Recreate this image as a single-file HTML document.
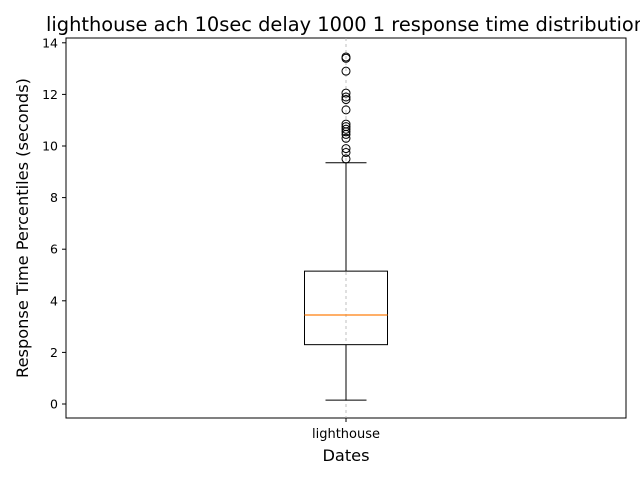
<!DOCTYPE html>
<html><head><meta charset="utf-8"><style>body{margin:0;background:#fff}svg{display:block;font-family:"DejaVu Sans","Liberation Sans",sans-serif}</style></head><body>
<svg id="c" width="640" height="480"></svg>
<script>
const categories=["lighthouse"];
const q1Values=[2.3];
const medianValues=[3.45];
const q3Values=[5.15];
const whiskerLow=[0.15];
const whiskerHigh=[9.35];
const outliers=[13.45,13.4,12.9,12.05,11.9,11.8,11.4,10.85,10.75,10.65,10.55,10.45,10.3,9.9,9.75,9.5];
const yTicks=[0,2,4,6,8,10,12,14];
const NS="http://www.w3.org/2000/svg";
const svg=document.getElementById('c');
const L=66,R=626,T=38,B=418;
function y(v){return 404-v*25.8;}
function x(i){return L+(R-L)*(i+0.5)/categories.length;}
function mk(t,a,txt){const e=document.createElementNS(NS,t);for(const k in a)e.setAttribute(k,a[k]);if(txt!=null)e.textContent=txt;svg.appendChild(e);return e;}
let e;
e=mk('rect',{x:L,y:T,width:R-L,height:B-T,fill:'none',stroke:'#000','stroke-width':1});


yTicks.forEach(t=>{
 e=mk('line',{x1:L-4,x2:L,y1:y(t),y2:y(t),stroke:'#000'});
 
 
 e=mk('text',{x:L-8,y:y(t)+4.5,'text-anchor':'end','font-size':12.5},t);
 
 
});
categories.forEach((c,i)=>{
 const cx=x(i);
 e=mk('line',{x1:cx,x2:cx,y1:T,y2:B,stroke:'#b0b0b0','stroke-dasharray':'3,3','stroke-width':0.8});
 
 
 e=mk('line',{x1:cx,x2:cx,y1:B,y2:B+4,stroke:'#000'});
 
 
 e=mk('text',{x:cx,y:B+20,'text-anchor':'middle','font-size':13},c);
 
 
 e=mk('line',{x1:cx,x2:cx,y1:y(whiskerLow[i]),y2:y(q1Values[i]),stroke:'#000'});
 
 
 e=mk('line',{x1:cx,x2:cx,y1:y(q3Values[i]),y2:y(whiskerHigh[i]),stroke:'#000'});
 
 
 e=mk('line',{x1:cx-20.5,x2:cx+20.5,y1:y(whiskerLow[i]),y2:y(whiskerLow[i]),stroke:'#000'});
 
 
 e=mk('line',{x1:cx-20.5,x2:cx+20.5,y1:y(whiskerHigh[i]),y2:y(whiskerHigh[i]),stroke:'#000'});
 
 
 e=mk('rect',{x:cx-41.5,y:y(q3Values[i]),width:83,height:y(q1Values[i])-y(q3Values[i]),fill:'none',stroke:'#000'});
 
 
 e=mk('line',{x1:cx-41.5,x2:cx+41.5,y1:y(medianValues[i]),y2:y(medianValues[i]),stroke:'#ff7f0e','stroke-width':1.2});
 
 
 outliers.forEach(v=>{
  e=mk('circle',{cx:cx,cy:y(v),r:4,fill:'none',stroke:'#000'});
  
  
 });
});
e=mk('text',{x:346,y:31,'text-anchor':'middle','font-size':19.4},'lighthouse ach 10sec delay 1000 1 response time distribution');


e=mk('text',{x:346,y:461,'text-anchor':'middle','font-size':16.2},'Dates');


e=mk('text',{x:0,y:0,'text-anchor':'middle','font-size':16.2,transform:'translate(28,228) rotate(-90)'},'Response Time Percentiles (seconds)');


</script></body></html>
